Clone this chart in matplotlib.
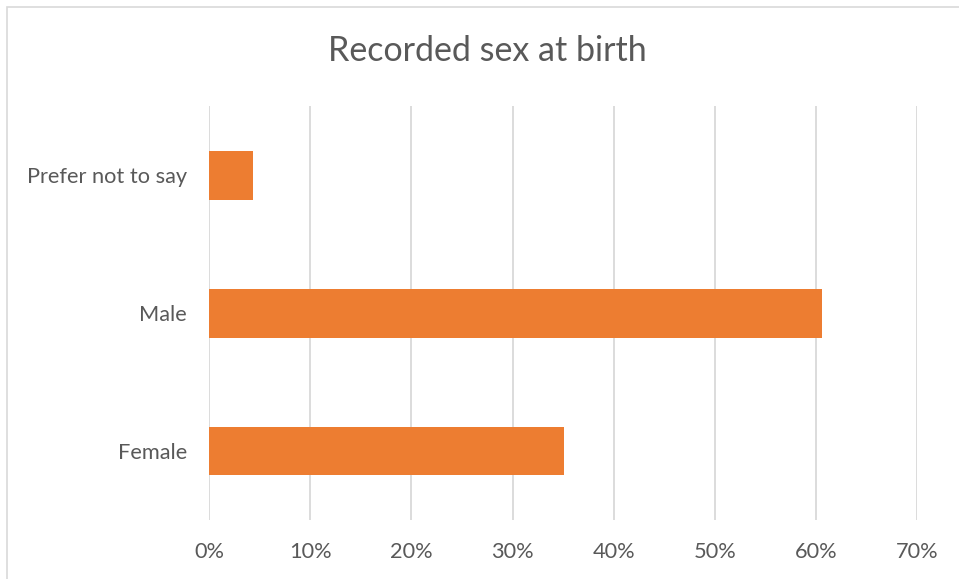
import matplotlib
matplotlib.use("Agg")
import matplotlib.pyplot as plt
from matplotlib.ticker import PercentFormatter
from matplotlib.patches import Rectangle

# Data (bottom to top, as Excel draws it)
categories = ["Female", "Male", "Prefer not to say"]
shares = [0.351, 0.606, 0.043]
x_ticks = [0.0, 0.1, 0.2, 0.3, 0.4, 0.5, 0.6, 0.7]

text_col = "#595959"
bar_col = "#ED7D31"
grid_col = "#D9D9D9"

plt.rcParams["font.family"] = ["Lato", "DejaVu Sans"]

fig = plt.figure(figsize=(9.59, 5.79), dpi=100)
ax = fig.add_axes([0.218, 0.1019, 0.7385, 0.715])

ax.barh(range(len(categories)), shares, height=0.355, color=bar_col, zorder=3)

ax.set_xlim(0, 0.7)
ax.set_ylim(-0.5, len(categories) - 0.5)
ax.set_xticks(x_ticks)
ax.xaxis.set_major_formatter(PercentFormatter(1.0, decimals=0))
ax.set_yticks(range(len(categories)))
ax.set_yticklabels(categories)

ax.grid(axis="x", color=grid_col, linewidth=1.3, zorder=0)
for s in ax.spines.values():
    s.set_visible(False)
ax.tick_params(axis="both", length=0, labelsize=15.7, labelcolor=text_col)
ax.tick_params(axis="x", pad=16)
ax.tick_params(axis="y", pad=16)

fig.text(0.508, 0.912, "Recorded sex at birth", ha="center", va="center",
         fontsize=24.5, color=text_col)

# chart area border (right/bottom edges fall outside the crop)
fig.patches.append(Rectangle((7 / 959, -0.2), 1.2, 1.2 - 7 / 579, transform=fig.transFigure,
                             fill=False, edgecolor=grid_col, linewidth=1.2))

plt.savefig("out.png", dpi=100)
plt.close()
